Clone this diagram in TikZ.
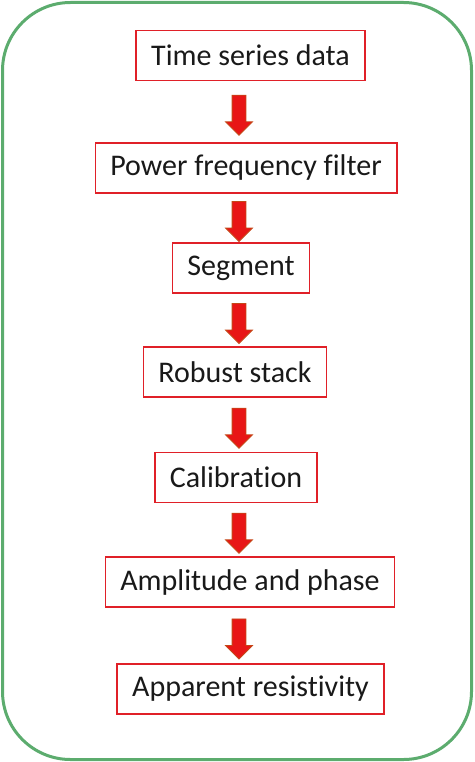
\documentclass[tikz,border=0pt]{standalone}
\usepackage{fontspec}
\setmainfont{Carlito}[Ligatures=NoCommon]
\usetikzlibrary{shapes.arrows}
\definecolor{framegreen}{RGB}{92,172,110}
\definecolor{boxred}{RGB}{224,32,40}
\definecolor{arrowred}{RGB}{232,22,22}
\definecolor{arrowedge}{RGB}{196,72,24}

\begin{document}
\begin{tikzpicture}[x=1pt,y=-1pt,semithick]
	\tikzstyle{every node}=[font=\fontsize{30}{36}\selectfont]
	\tikzstyle{stepbox}=[draw=boxred,line width=1.6pt,inner xsep=15pt,minimum height=50pt,text=black!90]
	\tikzstyle{downarrow}=[single arrow,draw=arrowedge,fill=arrowred,line width=0.8pt,inner sep=6.5pt,
		minimum height=40pt,single arrow head extend=6.5pt,shape border rotate=270]

	\useasboundingbox (0,0) rectangle (474,762);
	\draw[framegreen,line width=3pt,rounded corners=68pt] (2.5,2.5) rectangle (471.5,759.5);

	\coordinate (ax) at (239,0);

	\node[stepbox] (data) at (250.5,55.5) {Time series data};
	\node[stepbox] (filter) at (246,168) {Power frequency filter};
	\node[stepbox] (segment) at (241,268) {Segment};
	\node[stepbox] (stack) at (235,372) {Robust stack};
	\node[stepbox] (calib) at (236,477.5) {Calibration};
	\node[stepbox] (amph) at (250,582) {Amplitude and phase};
	\node[stepbox] (rho) at (250.5,689) {Apparent resistivity};

	\path (data.south -| ax) -- node[downarrow] (a1) {} (filter.north -| ax);
	\path (filter.south -| ax) -- node[downarrow] (a2) {} (segment.north -| ax);
	\path (segment.south -| ax) -- node[downarrow] (a3) {} (stack.north -| ax);
	\path (stack.south -| ax) -- node[downarrow] (a4) {} (calib.north -| ax);
	\path (calib.south -| ax) -- node[downarrow] (a5) {} (amph.north -| ax);
	\path (amph.south -| ax) -- node[downarrow] (a6) {} (rho.north -| ax);
\end{tikzpicture}
\end{document}
